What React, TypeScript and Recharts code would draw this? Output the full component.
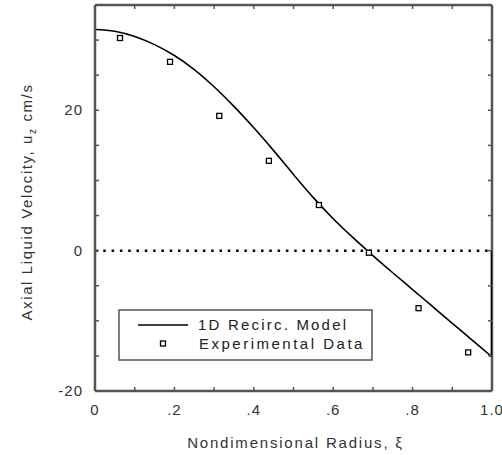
import React from "react";
import {
  ComposedChart,
  Line,
  Scatter,
  XAxis,
  YAxis,
  ReferenceLine,
  Legend,
} from "recharts";

const curveX = [0, 0.05, 0.1, 0.15, 0.2, 0.25, 0.3, 0.35, 0.4, 0.45, 0.5, 0.55, 0.6, 0.65, 0.7, 0.75, 0.8, 0.85, 0.9, 0.95, 1.0];
const curveY = [31.5, 31.25, 30.5, 29.35, 27.8, 25.8, 23.35, 20.55, 17.5, 14.25, 10.85, 7.55, 4.55, 1.85, -0.7, -3.15, -5.55, -7.95, -10.35, -12.75, -15.15];
const wallX = [1.0, 1.0];
const wallY = [-15.15, 0];

const expX = [0.063, 0.189, 0.313, 0.438, 0.564, 0.69, 0.815, 0.94];
const expY = [30.3, 26.9, 19.2, 12.8, 6.5, -0.3, -8.2, -14.5];

const xTicks = [0, 0.1, 0.2, 0.3, 0.4, 0.5, 0.6, 0.7, 0.8, 0.9, 1.0];
const xTickLabels: Record<string, string> = { "0": "0", "0.2": ".2", "0.4": ".4", "0.6": ".6", "0.8": ".8", "1": "1.0" };
const yTicks = [-20, -15, -10, -5, 0, 5, 10, 15, 20, 25, 30, 35];
const yTickLabels: Record<string, string> = { "-20": "-20", "0": "0", "20": "20" };

const curve = curveX.map((x, i) => ({ x, y: curveY[i] }));
const wall = wallX.map((x, i) => ({ x, y: wallY[i] }));
const exp = expX.map((x, i) => ({ x, y: expY[i] }));

const FONT = "'Liberation Sans', Arial, sans-serif";
const TEXT = "#333";
const FRAME = "#555";

const keyOf = (v: number) => String(Math.round(v * 10) / 10);

const BottomTick = (p: any) => {
  const { x, y, payload } = p;
  const lab = xTickLabels[keyOf(payload.value)];
  return (
    <g>
      <line x1={x} x2={x} y1={y} y2={y - 4} stroke={FRAME} strokeWidth={1.5} />
      {lab !== undefined && (
        <text x={x} y={y + 24} textAnchor="middle" fontFamily={FONT} fontSize={15} fill={TEXT} letterSpacing={1}>
          {lab}
        </text>
      )}
    </g>
  );
};

const TopTick = (p: any) => {
  const { x, y } = p;
  return <line x1={x} x2={x} y1={y} y2={y + 4} stroke={FRAME} strokeWidth={1.5} />;
};

const LeftTick = (p: any) => {
  const { x, y, payload } = p;
  const lab = yTickLabels[String(payload.value)];
  return (
    <g>
      <line x1={x} x2={x + 4} y1={y} y2={y} stroke={FRAME} strokeWidth={1.5} />
      {lab !== undefined && (
        <text x={x - 12} y={y + 5} textAnchor="end" fontFamily={FONT} fontSize={15} fill={TEXT} letterSpacing={1}>
          {lab}
        </text>
      )}
    </g>
  );
};

const RightTick = (p: any) => {
  const { x, y } = p;
  return <line x1={x} x2={x - 4} y1={y} y2={y} stroke={FRAME} strokeWidth={1.5} />;
};

const SquareShape = (p: any) => {
  const { cx, cy } = p;
  return <rect x={cx - 2.5} y={cy - 2.5} width={5} height={5} fill="#fff" stroke="#000" strokeWidth={1.3} />;
};

const YLabel = (p: any) => {
  const vb = p.viewBox || {};
  const cy = (vb.y ?? 0) + (vb.height ?? 0) / 2 + 4;
  const cx = 32;
  return (
    <text
      x={cx}
      y={cy}
      transform={`rotate(-90 ${cx} ${cy})`}
      textAnchor="middle"
      fontFamily={FONT}
      fontSize={15}
      fill={TEXT}
      letterSpacing={1.6}
    >
      <tspan>Axial Liquid Velocity, u</tspan>
      <tspan fontSize={10} dy={4}>z</tspan>
      <tspan dy={-4}> cm/s</tspan>
    </text>
  );
};

const XLabel = (p: any) => {
  const vb = p.viewBox || {};
  const cx = (vb.x ?? 0) + (vb.width ?? 0) / 2;
  return (
    <text x={cx + 2} y={448} textAnchor="middle" fontFamily={FONT} fontSize={15} fill={TEXT} letterSpacing={1.8}>
      Nondimensional Radius, ξ
    </text>
  );
};

const LegendBox = () => (
  <svg width={255} height={52} style={{ display: "block" }}>
    <rect x={1} y={1} width={253} height={50} fill="#fff" stroke={FRAME} strokeWidth={1.5} />
    <line x1={20} x2={70} y1={16} y2={16} stroke="#000" strokeWidth={1.5} />
    <text x={80} y={21} fontFamily={FONT} fontSize={15} fill="#222" letterSpacing={2.2}>
      1D Recirc. Model
    </text>
    <rect x={42.5} y={32} width={5} height={5} fill="#fff" stroke="#000" strokeWidth={1.3} />
    <text x={81} y={40} fontFamily={FONT} fontSize={15} fill="#222" letterSpacing={2.5}>
      Experimental Data
    </text>
  </svg>
);

export default function App() {
  return (
    <div style={{ position: "absolute", left: 0, top: 0 }}>
      <ComposedChart width={502} height={455} margin={{ top: 4, right: 9, bottom: 0, left: 0 }}>
        <XAxis
          xAxisId="b"
          dataKey="x"
          type="number"
          domain={[0, 1]}
          ticks={xTicks}
          interval={0}
          height={64}
          tickSize={0}
          tickMargin={0}
          tickLine={false}
          tick={<BottomTick />}
          axisLine={{ stroke: FRAME, strokeWidth: 2.5 }}
          allowDataOverflow
          label={<XLabel />}
        />
        <XAxis
          xAxisId="t"
          orientation="top"
          dataKey="x"
          type="number"
          domain={[0, 1]}
          ticks={xTicks}
          interval={0}
          height={1}
          tickSize={0}
          tickMargin={0}
          tickLine={false}
          tick={<TopTick />}
          axisLine={{ stroke: FRAME, strokeWidth: 2.5 }}
          allowDataOverflow
        />
        <YAxis
          yAxisId="l"
          dataKey="y"
          type="number"
          domain={[-20, 35]}
          ticks={yTicks}
          interval={0}
          width={95}
          tickSize={0}
          tickMargin={0}
          tickLine={false}
          tick={<LeftTick />}
          axisLine={{ stroke: FRAME, strokeWidth: 2.5 }}
          allowDataOverflow
          label={<YLabel />}
        />
        <YAxis
          yAxisId="r"
          orientation="right"
          dataKey="y"
          type="number"
          domain={[-20, 35]}
          ticks={yTicks}
          interval={0}
          width={1}
          tickSize={0}
          tickMargin={0}
          tickLine={false}
          tick={<RightTick />}
          axisLine={{ stroke: FRAME, strokeWidth: 2.5 }}
          allowDataOverflow
        />
        <ReferenceLine xAxisId="b" yAxisId="l" y={0} stroke="#000" strokeWidth={2.5} strokeDasharray="2.5 5.8" />
        <Line
          xAxisId="b"
          yAxisId="l"
          data={curve}
          dataKey="y"
          type="monotone"
          stroke="#000"
          strokeWidth={1.6}
          dot={false}
          activeDot={false}
          isAnimationActive={false}
          name="1D Recirc. Model"
        />
        <Line
          xAxisId="b"
          yAxisId="l"
          data={wall}
          dataKey="y"
          type="linear"
          stroke="#000"
          strokeWidth={2.5}
          dot={false}
          activeDot={false}
          isAnimationActive={false}
          legendType="none"
          {...({ zIndex: 900 } as any)}
        />
        <Scatter
          xAxisId="b"
          yAxisId="l"
          data={exp}
          dataKey="y"
          shape={<SquareShape />}
          isAnimationActive={false}
          name="Experimental Data"
        />
        <Legend
          layout="vertical"
          align="center"
          verticalAlign="middle"
          content={<LegendBox />}
          wrapperStyle={{ position: "absolute", left: 118, top: 309, width: 255, height: 52 }}
        />
      </ComposedChart>
    </div>
  );
}
